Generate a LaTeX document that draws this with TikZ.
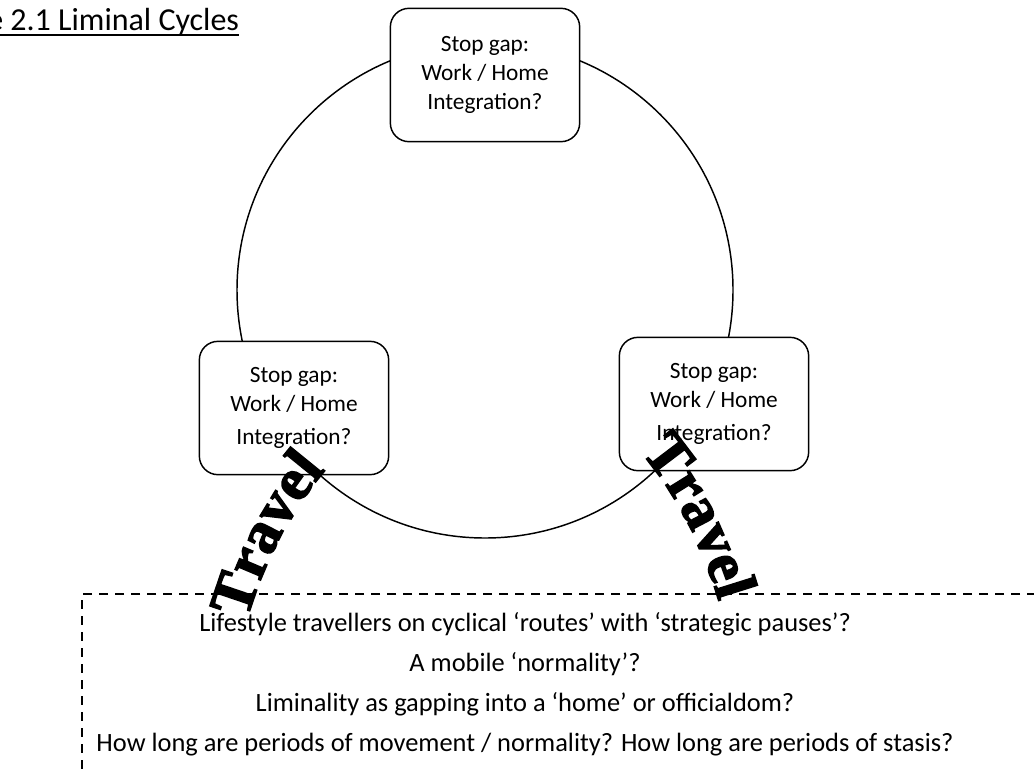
\documentclass[tikz,border=0pt]{standalone}
\usepackage{fontspec}
\setmainfont{Carlito}
\newfontfamily\travelfont{Liberation Serif}[BoldFeatures={FakeBold=2.5}]
\usetikzlibrary{decorations.text}

\newcommand\travelstyle{\travelfont\bfseries\fontsize{45}{45}\selectfont}
\tikzset{
  stopbox/.style={draw,line width=1.1pt,rounded corners=14pt,fill=white,
    minimum width=142pt,minimum height=100pt,align=center,
    font=\fontsize{17.5}{22}\selectfont},
  travel/.style={decorate,decoration={text along path,text align=center,
    text={|\travelstyle|Travel}}},
  notebox/.style={dash pattern=on 7pt off 5pt,line width=0.8pt}
}

\begin{document}
\begin{tikzpicture}[x=0.75pt,y=-0.75pt]
  \useasboundingbox (0,0) rectangle (1034,774);
  % title, cut at the left edge
  \node[anchor=base west,inner sep=0pt,font=\fontsize{24}{28}\selectfont] (title) at (-13,31) {e 2.1 Liminal Cycles};
  \draw[line width=1.4pt] ([yshift=-3pt]title.base west) -- ([yshift=-3pt]title.base east);
  % the cycle
  \coordinate (c) at (485,290);
  \draw[line width=1.1pt] (c) circle (248);
  \node[stopbox] (top) at (485,75) {Stop gap:\\Work / Home\\Integration?};
  \node[stopbox] (left) at (294,408) {Stop gap:\\Work / Home\\[3pt]Integration?};
  \node[stopbox] (right) at (714,404) {Stop gap:\\Work / Home\\[3pt]Integration?};
  % questions
  \coordinate (nw) at (82,594);
  \draw[notebox] (1100,594) -- (nw) -- (82,800);
  \node[align=center,font=\fontsize{19.8}{30}\selectfont] (notes) at (525,684)
    {Lifestyle travellers on cyclical ‘routes’ with ‘strategic pauses’?\\
     A mobile ‘normality’?\\
     Liminality as gapping into a ‘home’ or officialdom?\\
     How long are periods of movement / normality? How long are periods of stasis?};
  % travel arcs
  \path[travel] (240,646) .. controls (258,572) and (290,504) .. (344,450);
  \path[travel] (622,432) .. controls (676,486) and (708,554) .. (726,628);
\end{tikzpicture}
\end{document}
